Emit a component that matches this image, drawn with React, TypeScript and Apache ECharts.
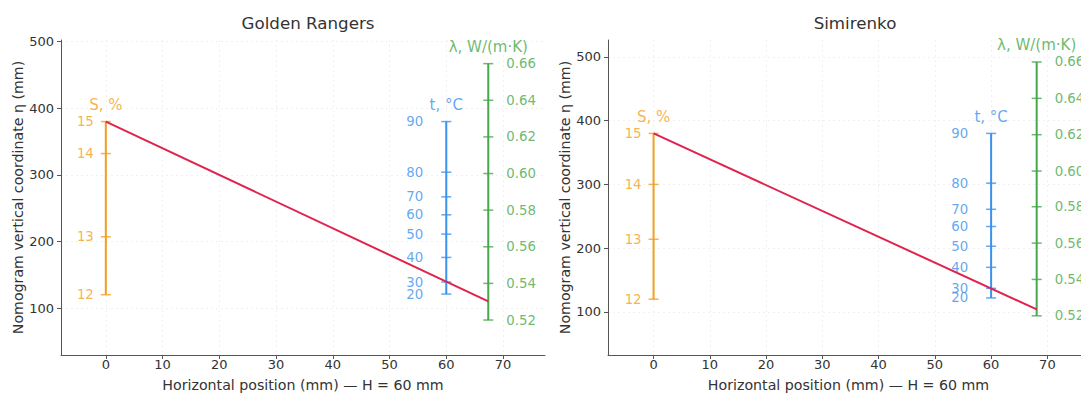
import React, { useEffect, useRef } from 'react';
import * as echarts from 'echarts';

// ---- axis ticks / titles ----
const xTicks = [0, 10, 20, 30, 40, 50, 60, 70];
const yTicks = [100, 200, 300, 400, 500];
const panelTitles = ['Golden Rangers', 'Simirenko'];
const xAxisName = 'Horizontal position (mm) — H = 60 mm';
const yAxisName = 'Nomogram vertical coordinate η (mm)';
const scaleTitles = ['S, %', 't, °C', 'λ, W/(m·K)'];

// ---- scale values ----
const sValues = [12, 13, 14, 15];
const tValues = [20, 30, 40, 50, 60, 70, 80, 90];
const lambdaValues = [0.52, 0.54, 0.56, 0.58, 0.6, 0.62, 0.64, 0.66];

// ---- Golden Rangers (η position of each scale value) ----
const grSEta = [120, 207, 332, 380];
const grTEta = [121, 139, 176, 211, 240, 267, 304, 380];
const grLambdaEta = [82, 137, 192, 247, 302, 357, 412, 467];
const grScaleX = [0, 60, 67.4]; // S, t, λ
const grIsoX = [0, 67.4];
const grIsoEta = [380, 110];
const grYRange = [29.5, 502.5];
const grXRange = [-7.9, 77.4];

// ---- Simirenko ----
const smSEta = [120, 214, 300, 380];
const smTEta = [122, 137, 170, 203, 234, 261, 302, 380];
const smLambdaEta = [94, 151, 208, 265, 321, 378, 435, 492];
const smScaleX = [0, 60, 68.1];
const smIsoX = [0, 68.1];
const smIsoEta = [380, 104];
const smYRange = [32.5, 526.5];
const smXRange = [-8.1, 77.4];

const FONT = 'DejaVu Sans';
const C_S = '#F29F1F';
const C_T = '#3B91EE';
const C_L = '#46A84A';
const C_ISO = '#E0234E';
const C_AX = '#555';
const C_TXT = '#333';

function scaleSeries(gi: number, x: number, values: number[], etas: number[], color: string,
  side: 'left' | 'right', dist: number, title: string, fmt: (v: number) => string): any[] {
  const lo = Math.min(...etas);
  const hi = Math.max(...etas);
  return [
    {
      type: 'line', xAxisIndex: gi, yAxisIndex: gi, silent: true, symbol: 'none', z: 2,
      data: [[x, lo], [x, hi]], lineStyle: { color, width: 2 },
    },
    {
      type: 'scatter', xAxisIndex: gi, yAxisIndex: gi, silent: true, z: 3,
      symbol: 'rect', symbolSize: [10, 1.5], itemStyle: { color },
      data: values.map((v, i) => ({ value: [x, etas[i]], name: fmt(v) })),
      label: {
        show: true, position: side, distance: dist, color, fontSize: 13.3, fontFamily: FONT,
        formatter: (p: any) => p.name,
      },
    },
    {
      type: 'scatter', xAxisIndex: gi, yAxisIndex: gi, silent: true, z: 3,
      symbolSize: 0, itemStyle: { color: 'transparent' },
      data: [[x, hi]],
      label: {
        show: true, position: 'top', distance: 9, color, fontSize: 15, fontFamily: FONT,
        formatter: () => title,
      },
    },
  ];
}

function panelSeries(gi: number, scaleX: number[], sEta: number[], tEta: number[], lEta: number[],
  isoX: number[], isoEta: number[]): any[] {
  return [
    ...scaleSeries(gi, scaleX[0], sValues, sEta, C_S, 'left', 7, scaleTitles[0], (v) => String(v)),
    ...scaleSeries(gi, scaleX[1], tValues, tEta, C_T, 'left', 18, scaleTitles[1], (v) => String(v)),
    ...scaleSeries(gi, scaleX[2], lambdaValues, lEta, C_L, 'right', 13, scaleTitles[2], (v) => v.toFixed(2)),
    {
      type: 'line', xAxisIndex: gi, yAxisIndex: gi, silent: true, symbol: 'none', z: 5,
      data: isoX.map((x, i) => [x, isoEta[i]]), lineStyle: { color: C_ISO, width: 2 },
    },
  ];
}

const gridLine = { show: true, lineStyle: { color: '#eeeeee', type: [2, 3], width: 0.8 } };

function xAxis(gi: number, range: number[]): any {
  return {
    type: 'value', gridIndex: gi, min: range[0], max: range[1],
    axisLine: { show: true, onZero: false, lineStyle: { color: C_AX, width: 1 } },
    axisTick: { show: true, customValues: xTicks, length: 4, lineStyle: { color: C_AX } },
    axisLabel: { customValues: xTicks, color: C_TXT, fontSize: 13, fontFamily: FONT, margin: 3 },
    splitLine: gridLine,
    name: xAxisName, nameLocation: 'middle', nameGap: 23,
    nameTextStyle: { color: C_TXT, fontSize: 14.2, fontFamily: FONT },
  };
}

function yAxis(gi: number, range: number[], gap: number): any {
  return {
    type: 'value', gridIndex: gi, min: range[0], max: range[1],
    axisLine: { show: true, onZero: false, lineStyle: { color: C_AX, width: 1 } },
    axisTick: { show: true, customValues: yTicks, length: 4, lineStyle: { color: C_AX } },
    axisLabel: { customValues: yTicks, color: C_TXT, fontSize: 13, fontFamily: FONT, margin: 7 },
    splitLine: gridLine,
    name: yAxisName, nameLocation: 'middle', nameGap: gap,
    nameTextStyle: { color: C_TXT, fontSize: 14.2, fontFamily: FONT },
  };
}

export default function App() {
  const ref = useRef<HTMLDivElement>(null);
  useEffect(() => {
    if (!ref.current) return;
    const chart = echarts.init(ref.current, null, { renderer: 'svg' });
    chart.setOption({
      animation: false,
      backgroundColor: '#ffffff',
      textStyle: { fontFamily: FONT },
      title: [
        { text: panelTitles[0], left: 303, top: 9, textAlign: 'center',
          textStyle: { fontSize: 16.7, fontWeight: 'normal', color: C_TXT, fontFamily: FONT } },
        { text: panelTitles[1], left: 850, top: 9, textAlign: 'center',
          textStyle: { fontSize: 16.7, fontWeight: 'normal', color: C_TXT, fontFamily: FONT } },
      ],
      grid: [
        { left: 61, top: 40, width: 484, height: 320 },
        { left: 608, top: 40, width: 481, height: 320 },
      ],
      xAxis: [xAxis(0, grXRange), xAxis(1, smXRange)],
      yAxis: [yAxis(0, grYRange, 33), yAxis(1, smYRange, 35)],
      series: [
        ...panelSeries(0, grScaleX, grSEta, grTEta, grLambdaEta, grIsoX, grIsoEta),
        ...panelSeries(1, smScaleX, smSEta, smTEta, smLambdaEta, smIsoX, smIsoEta),
      ],
    });
    return () => chart.dispose();
  }, []);
  return (
    <div style={{ position: 'fixed', left: 0, top: 0, width: 1081, height: 397, overflow: 'hidden', background: '#fff' }}>
      <div ref={ref} style={{ width: 1100, height: 397 }} />
    </div>
  );
}
